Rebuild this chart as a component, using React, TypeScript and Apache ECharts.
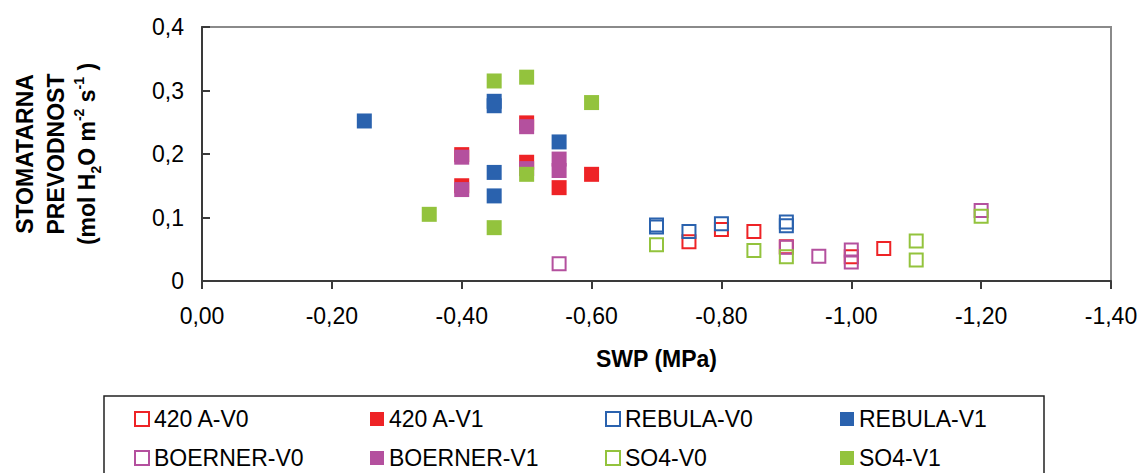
import React, { useEffect, useRef } from "react";
import * as echarts from "echarts";

const seriesNames = [
  "420 A-V0",
  "420 A-V1",
  "REBULA-V0",
  "REBULA-V1",
  "BOERNER-V0",
  "BOERNER-V1",
  "SO4-V0",
  "SO4-V1",
];

const a420V0 = [[-0.75, 0.062], [-0.8, 0.081], [-0.85, 0.078], [-0.9, 0.054], [-1.0, 0.038], [-1.05, 0.051]];
const a420V1 = [[-0.4, 0.199], [-0.4, 0.15], [-0.5, 0.249], [-0.5, 0.187], [-0.55, 0.147], [-0.6, 0.168]];
const rebulaV0 = [[-0.7, 0.088], [-0.7, 0.085], [-0.75, 0.078], [-0.8, 0.09], [-0.9, 0.093], [-0.9, 0.087]];
const rebulaV1 = [[-0.25, 0.252], [-0.45, 0.283], [-0.45, 0.276], [-0.45, 0.171], [-0.45, 0.134], [-0.55, 0.219]];
const boernerV0 = [[-0.55, 0.027], [-0.9, 0.053], [-0.95, 0.039], [-1.0, 0.049], [-1.0, 0.03], [-1.2, 0.111]];
const boernerV1 = [[-0.4, 0.195], [-0.4, 0.144], [-0.5, 0.243], [-0.5, 0.177], [-0.55, 0.192], [-0.55, 0.174]];
const so4V0 = [[-0.7, 0.057], [-0.85, 0.048], [-0.9, 0.038], [-1.1, 0.063], [-1.1, 0.033], [-1.2, 0.102]];
const so4V1 = [[-0.35, 0.105], [-0.45, 0.315], [-0.45, 0.084], [-0.5, 0.321], [-0.5, 0.168], [-0.6, 0.281]];

const seriesData = [a420V0, a420V1, rebulaV0, rebulaV1, boernerV0, boernerV1, so4V0, so4V1];
const seriesColors = ["#EE2326", "#EE2326", "#2A62AE", "#2A62AE", "#B4509E", "#B4509E", "#93C33D", "#93C33D"];
const seriesHollow = [true, false, true, false, true, false, true, false];

const FONT = "'Liberation Sans', Arial, sans-serif";

export default function App() {
  const ref = useRef<HTMLDivElement>(null);

  useEffect(() => {
    if (!ref.current) return;
    const chart = echarts.init(ref.current, undefined, { renderer: "svg" });

    const series = seriesNames.map((name, i) => ({
      name,
      type: "scatter",
      data: seriesData[i],
      symbol: "rect",
      symbolSize: seriesHollow[i] ? 13 : 15,
      itemStyle: seriesHollow[i]
        ? { color: "rgba(255,255,255,0)", borderColor: seriesColors[i], borderWidth: 2, opacity: 1 }
        : { color: seriesColors[i], opacity: 1 },
      emphasis: { disabled: true },
      z: 2 + i,
    }));

    const colX = [141, 377, 612, 847];
    const rowY = [419, 458];
    const legends = seriesNames.map((name, i) => ({
      data: [name],
      left: colX[i % 4] - 7,
      top: rowY[Math.floor(i / 4)] - 12,
      orient: "horizontal",
      padding: 0,
      itemWidth: 14,
      itemHeight: 14,
      icon: "rect",
      selectedMode: false,
      textStyle: { fontSize: 23, fontFamily: FONT, color: "#000", lineHeight: 24 },
    }));

    const option = {
      animation: false,
      backgroundColor: "#fff",
      grid: {
        left: 202,
        top: 27,
        right: 32,
        bottom: 192,
        show: true,
        borderColor: "#8a8a8a",
        borderWidth: 2,
        containLabel: false,
        outerBoundsMode: "none",
      },
      xAxis: {
        type: "value",
        min: -1.4,
        max: 0,
        interval: 0.2,
        inverse: true,
        name: "SWP (MPa)",
        nameLocation: "middle",
        nameGap: 66,
        nameTextStyle: { fontSize: 23, fontWeight: "bold", fontFamily: FONT, color: "#000" },
        axisLine: { show: true, onZero: false, lineStyle: { color: "#3a3a3a", width: 2 } },
        axisTick: { show: true, inside: false, length: 8, lineStyle: { color: "#3a3a3a", width: 2 } },
        axisLabel: {
          fontSize: 23,
          fontFamily: FONT,
          color: "#000",
          margin: 23,
          formatter: (v: number) => v.toFixed(2).replace(".", ","),
        },
        splitLine: { show: false },
      },
      yAxis: {
        type: "value",
        min: 0,
        max: 0.4,
        interval: 0.1,
        axisLine: { show: true, onZero: false, lineStyle: { color: "#3a3a3a", width: 2 } },
        axisTick: { show: true, inside: true, length: 8, lineStyle: { color: "#3a3a3a", width: 2 } },
        axisLabel: {
          fontSize: 23,
          fontFamily: FONT,
          color: "#000",
          margin: 18,
          formatter: (v: number) => (Math.abs(v) < 1e-9 ? "0" : v.toFixed(1).replace(".", ",")),
        },
        splitLine: { show: false },
      },
      legend: legends,
      graphic: [
        {
          type: "rect",
          shape: { x: 104, y: 396, width: 940, height: 90 },
          style: { fill: "none", stroke: "#222", lineWidth: 1.5 },
          silent: true,
        },
        {
          type: "text",
          x: 56,
          y: 154,
          rotation: Math.PI / 2,
          silent: true,
          style: {
            text:
              "{b|STOMATARNA}\n{b|PREVODNOST}\n{b|(mol H}{sub|2}{b|O m}{sup|-2}{b| s}{sup|-1}{b| )}",
            align: "center",
            verticalAlign: "middle",
            rich: {
              b: { fontSize: 23, fontWeight: "bold", fontFamily: FONT, fill: "#000", lineHeight: 31 },
              sub: { fontSize: 14, fontWeight: "bold", fontFamily: FONT, fill: "#000", lineHeight: 14, verticalAlign: "bottom" },
              sup: { fontSize: 14, fontWeight: "bold", fontFamily: FONT, fill: "#000", lineHeight: 14, verticalAlign: "top" },
            },
          },
        },
      ],
      series,
    };

    chart.setOption(option as any);
    return () => chart.dispose();
  }, []);

  return (
    <div
      ref={ref}
      style={{ position: "fixed", left: 0, top: 0, width: 1143, height: 473, background: "#fff" }}
    />
  );
}
